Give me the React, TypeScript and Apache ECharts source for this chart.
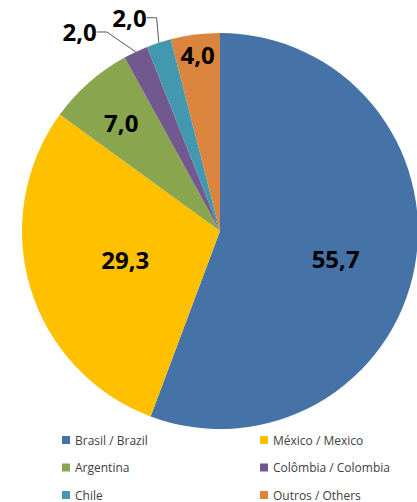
import React, { useEffect, useRef } from "react";
import * as echarts from "echarts";

const categories = [
  "Brasil / Brazil",
  "México / Mexico",
  "Argentina",
  "Colômbia / Colombia",
  "Chile",
  "Outros / Others",
];
const values = [55.7, 29.3, 7.0, 2.0, 2.0, 4.0];
const colors = ["#4572A7", "#FFC000", "#89A54E", "#71588F", "#4198AF", "#DB843D"];

// label placement (radial fraction of radius, angular shift in degrees)
const labelRadius = [0.6, 0.5, 0.74, 1.23, 1.17, 0.9];
const labelAngleShift = [3, 0, -1, -10, -5, 0];
const outsideLabels = [false, false, false, true, true, false];

const leftLegend = [categories[0], categories[2], categories[4]];
const rightLegend = [categories[1], categories[3], categories[5]];

const CX = 220;
const CY = 231;
const R = 198;

export default function App() {
  const ref = useRef<HTMLDivElement>(null);
  useEffect(() => {
    document.body.style.margin = "0";
    if (!ref.current) return;
    const chart = echarts.init(ref.current, null, { renderer: "svg" });
    const total = values.reduce((a, b) => a + b, 0);
    const fmt = (v: number) => v.toFixed(1).replace(".", ",");
    const legendText = {
      fontFamily: "Open Sans",
      fontSize: 12,
      color: "#404040",
      lineHeight: 12,
    };
    const legendBase = {
      orient: "vertical",
      top: 434,
      height: 68,
      padding: 0,
      itemWidth: 8,
      itemHeight: 8,
      itemGap: 15.5,
      icon: "rect",
      selectedMode: false,
      textStyle: legendText,
    };
    chart.setOption({
      animation: false,
      legend: [
        { ...legendBase, data: leftLegend, left: 62 },
        { ...legendBase, data: rightLegend, left: 260 },
      ],
      series: [
        {
          type: "pie",
          center: [CX, CY],
          radius: R,
          startAngle: 90,
          clockwise: true,
          color: colors,
          itemStyle: { borderWidth: 0 },
          label: {
            show: true,
            position: "inside",
            formatter: (p: any) => fmt(p.value),
            fontFamily: "Open Sans",
            fontWeight: "bold",
            fontSize: 24,
            color: "#000",
          },
          labelLine: { show: false },
          labelLayout: (params: any) => {
            const i = params.dataIndex;
            let start = 0;
            for (let k = 0; k < i; k++) start += values[k];
            const midDeg =
              ((start + values[i] / 2) / total) * 360 + labelAngleShift[i];
            const rad = (midDeg * Math.PI) / 180;
            const r = R * labelRadius[i];
            return {
              x: CX + r * Math.sin(rad),
              y: CY - r * Math.cos(rad),
              align: "center",
              verticalAlign: "middle",
            };
          },
          data: categories.map((name, i) => ({
            name,
            value: values[i],
            label: outsideLabels[i] ? { position: "outside" } : undefined,
            labelLine: outsideLabels[i]
              ? {
                  show: true,
                  length: 10,
                  length2: 10,
                  lineStyle: { color: "#595959", width: 1 },
                }
              : undefined,
          })),
        },
      ],
    });
    return () => chart.dispose();
  }, []);
  return <div ref={ref} style={{ width: 417, height: 502 }} />;
}
